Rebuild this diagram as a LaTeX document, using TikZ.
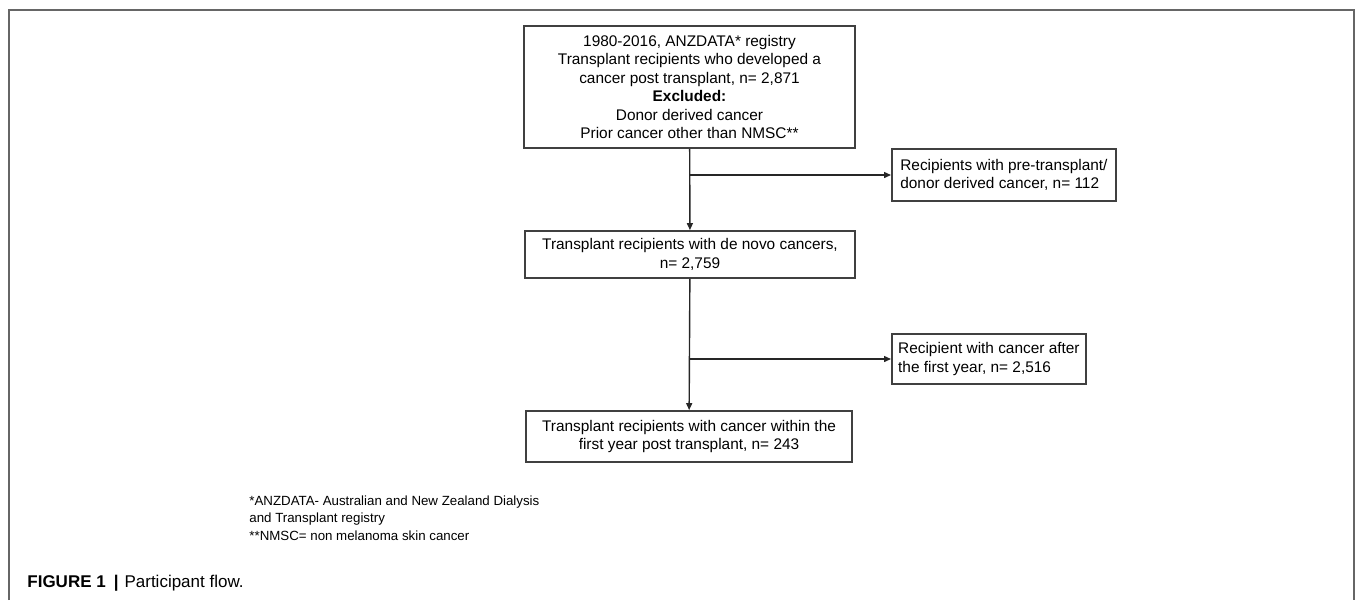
\documentclass[tikz,border=0pt]{standalone}
\usepackage{fontspec}
\setmainfont{Liberation Sans}
\usetikzlibrary{arrows.meta,positioning,calc}

\begin{document}
\begin{tikzpicture}[
    x=0.5pt, y=-0.5pt,
    box/.style={rectangle, draw=black!75, line width=0.9pt, fill=white,
                align=center, inner sep=2pt, font=\fontsize{7.7}{9.2}\selectfont},
    sbox/.style={box, align=left, anchor=west},
    flow/.style={-{Triangle[length=3.5pt,width=3pt]}, line width=0.7pt, black!85},
    note/.style={align=left, anchor=base west, inner sep=0pt,
                 font=\fontsize{6.65}{8.75}\selectfont}
]
\useasboundingbox (0,0) rectangle (1355,600);
% page frame, open at the bottom
\draw[black!60, line width=0.7pt] (9,600) -- (9,10) -- (1354,10) -- (1354,600);

\node[box, minimum width=165.5pt, minimum height=61pt] (cohort) at (689.5,87)
  {1980-2016, ANZDATA* registry\\Transplant recipients who developed a\\cancer post transplant, n= 2,871\\\textbf{Excluded:}\\Donor derived cancer\\Prior cancer other than NMSC**};
\node[box, minimum width=165pt, minimum height=23.5pt] (denovo) at (690,254.5)
  {Transplant recipients with de novo cancers,\\n= 2,759};
\node[box, minimum width=163pt, minimum height=25.5pt] (firstyr) at (689,436.5)
  {Transplant recipients with cancer within the\\first year post transplant, n= 243};
\node[sbox, minimum width=112pt, minimum height=26pt] (donor) at (891,175)
  {Recipients with pre-transplant/\\donor derived cancer, n= 112};
\node[sbox, minimum width=97pt, minimum height=25pt] (later) at (891,359)
  {Recipient with cancer after\\the first year, n= 2,516};

\coordinate (split1) at (cohort.south |- donor.west);
\coordinate (split2) at (denovo.south |- later.west);
\draw[flow] (cohort) -- (denovo);
\draw[flow] (split1) -- (donor);
\draw[flow] (denovo) -- (firstyr);
\draw[flow] (split2) -- (later);

% footnotes (base anchor sits on the last line)
\node[note] (notes) at (249,540)
  {*ANZDATA- Australian and New Zealand Dialysis\\and Transplant registry\\**NMSC= non melanoma skin cancer};
\node[anchor=base west, inner sep=0pt, font=\fontsize{8.5}{10}\selectfont] (caption) at (27,587)
  {\textbf{FIGURE 1}\hspace{4pt}\textbf{|}\hspace{3pt}Participant flow.};
\end{tikzpicture}
\end{document}
